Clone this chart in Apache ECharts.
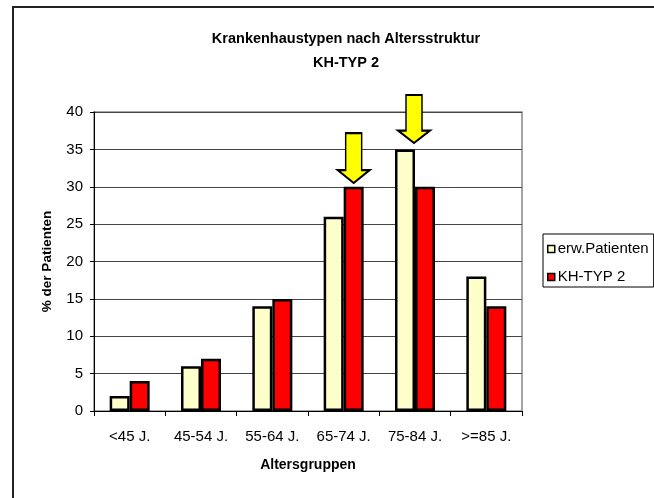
<!DOCTYPE html>
<html>
<head>
<meta charset="utf-8">
<script src="https://cdn.jsdelivr.net/npm/echarts@6/dist/echarts.min.js"></script>
<style>
  html, body { margin: 0; padding: 0; background: #fff; }
  #chart { width: 654px; height: 498px; }
</style>
</head>
<body>
<div id="chart"></div>
<script>
// Altersgruppen und Anteile in Prozent
const categories = ['<45 J.', '45-54 J.', '55-64 J.', '65-74 J.', '75-84 J.', '>=85 J.'];
const erwPatienten = [2, 6, 14, 26, 35, 18];
const khTyp2 = [4, 7, 15, 30, 30, 14];
const yTicks = [0, 5, 10, 15, 20, 25, 30, 35, 40];

// Hinweispfeile: [Altersgruppe, Spitze des Pfeils in %]
const arrowRed = ['65-74 J.', 30.5];
const arrowCream = ['75-84 J.', 35.85];

const FONT = 'Liberation Sans, Arial, sans-serif';
const arrowPath = 'path://M8 0 L24 0 L24 37 L32 37 L16 50 L0 37 L8 37 Z';

function arrowMark(coord, dx, h) {
  return {
    symbol: arrowPath,
    symbolSize: [32, h],
    symbolOffset: [dx, -h / 2],
    silent: true,
    animation: false,
    label: { show: false },
    itemStyle: { color: '#FFFF00', borderColor: '#000', borderWidth: 1.8 },
    data: [{ coord: coord }]
  };
}

const chart = echarts.init(document.getElementById('chart'), null, { renderer: 'canvas' });

chart.setOption({
  animation: false,
  backgroundColor: '#fff',
  textStyle: { fontFamily: FONT },
  graphic: [{
    type: 'rect',
    shape: { x: 13, y: 7, width: 700, height: 600 },
    style: { fill: 'none', stroke: '#222', lineWidth: 2 },
    z: 0
  }],
  title: {
    text: 'Krankenhaustypen nach Altersstruktur\nKH-TYP 2',
    left: 341,
    top: 22,
    textAlign: 'center',
    textStyle: { fontFamily: FONT, fontSize: 14.5, fontWeight: 'bold', color: '#000', lineHeight: 24 }
  },
  legend: {
    orient: 'vertical',
    left: 543,
    top: 234,
    itemWidth: 7,
    itemHeight: 7,
    itemGap: 10,
    padding: [6, 5, 1, 4],
    borderColor: '#000',
    borderWidth: 1,
    backgroundColor: '#fff',
    icon: 'rect',
    textStyle: { fontFamily: FONT, fontSize: 15, color: '#000', lineHeight: 18, padding: [0, 0, 0, -2] },
    itemStyle: { borderColor: '#000', borderWidth: 1.5 },
    data: ['erw.Patienten', 'KH-TYP 2']
  },
  grid: {
    left: 94, right: 132, top: 112, bottom: 87,
    show: true, backgroundColor: '#fff', borderColor: '#888', borderWidth: 1.5
  },
  xAxis: {
    type: 'category',
    data: categories,
    name: 'Altersgruppen',
    nameLocation: 'middle',
    nameGap: 47,
    nameTextStyle: { fontFamily: FONT, fontSize: 14, fontWeight: 'bold', color: '#000' },
    axisLine: { lineStyle: { color: '#000', width: 1 } },
    axisTick: { show: true, length: 5, interval: 0, lineStyle: { color: '#000' } },
    axisLabel: { interval: 0, margin: 18, fontFamily: FONT, fontSize: 15, color: '#000' }
  },
  yAxis: {
    type: 'value',
    min: yTicks[0],
    max: yTicks[yTicks.length - 1],
    interval: yTicks[1] - yTicks[0],
    name: '% der Patienten',
    nameLocation: 'middle',
    nameRotate: 90,
    nameGap: 40,
    nameTextStyle: { fontFamily: FONT, fontSize: 13.5, fontWeight: 'bold', color: '#000' },
    axisLine: { show: true, lineStyle: { color: '#000', width: 1 } },
    axisTick: { show: true, length: 4, inside: false, lineStyle: { color: '#000' } },
    axisLabel: { margin: 11, fontFamily: FONT, fontSize: 15, color: '#000' },
    splitLine: { show: true, lineStyle: { color: '#444', width: 1 } }
  },
  series: [
    {
      name: 'erw.Patienten',
      type: 'bar',
      data: erwPatienten,
      barWidth: 20,
      barGap: '0%',
      itemStyle: { color: '#FFFFCC', borderColor: '#000', borderWidth: 2.5 },
      markPoint: arrowMark(arrowCream, 9, 48)
    },
    {
      name: 'KH-TYP 2',
      type: 'bar',
      data: khTyp2,
      barWidth: 20,
      barGap: '0%',
      itemStyle: { color: '#FF0000', borderColor: '#000', borderWidth: 2.5 },
      markPoint: arrowMark(arrowRed, 0, 50)
    }
  ]
});
</script>
</body>
</html>
